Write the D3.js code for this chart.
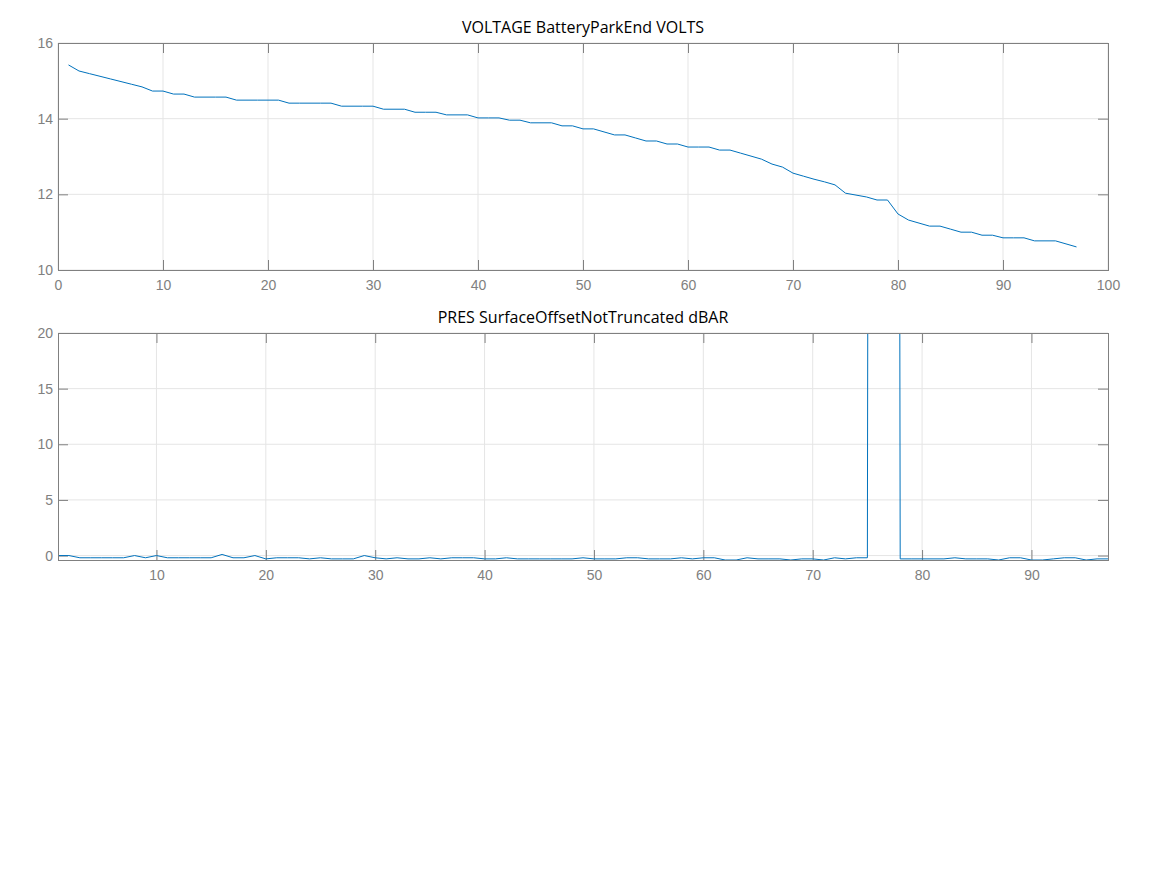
<!DOCTYPE html>
<meta charset="utf-8">
<head>
<script src="https://cdn.jsdelivr.net/npm/d3@7"></script>
</head>
<style>
  body { margin: 0; background: #fff; font-family: "Open Sans", "Noto Sans", sans-serif; }
  .title { font-size: 16px; fill: #000; }
  .tick text { font-size: 14px; fill: #808080; }
  .grid line { stroke: #e5e5e5; }
  .frame { fill: none; stroke: #808080; }
  .line { fill: none; stroke: #0072bd; stroke-width: 1px; stroke-linejoin: round; }
</style>
<body>
<script>

// top panel: battery voltage per cycle
var voltCycles = d3.range(1, 98);
var voltValues = [15.42, 15.26, 15.19, 15.12, 15.05, 14.98, 14.91, 14.84, 14.73, 14.73,
  14.65, 14.65, 14.57, 14.57, 14.57, 14.57, 14.49, 14.49, 14.49, 14.49,
  14.49, 14.41, 14.41, 14.41, 14.41, 14.41, 14.33, 14.33, 14.33, 14.33,
  14.25, 14.25, 14.25, 14.17, 14.17, 14.17, 14.10, 14.10, 14.10, 14.02,
  14.02, 14.02, 13.96, 13.96, 13.89, 13.89, 13.89, 13.81, 13.81, 13.73,
  13.73, 13.65, 13.57, 13.57, 13.49, 13.41, 13.41, 13.33, 13.33, 13.25,
  13.25, 13.25, 13.17, 13.17, 13.09, 13.01, 12.93, 12.80, 12.72, 12.56,
  12.48, 12.40, 12.33, 12.25, 12.03, 11.98, 11.93, 11.85, 11.85, 11.48,
  11.32, 11.24, 11.16, 11.16, 11.08, 11.00, 11.00, 10.92, 10.92, 10.85,
  10.85, 10.85, 10.77, 10.77, 10.77, 10.69, 10.61];

// bottom panel: surface pressure offset per cycle (76-77 go far off scale)
var presCycles = d3.range(1, 98);
var presValues = [0, 0, -0.2, -0.2, -0.2, -0.2, -0.2, 0, -0.2, 0,
  -0.2, -0.2, -0.2, -0.2, -0.2, 0.1, -0.2, -0.2, 0, -0.3,
  -0.2, -0.2, -0.2, -0.3, -0.2, -0.3, -0.3, -0.3, 0, -0.2,
  -0.3, -0.2, -0.3, -0.3, -0.2, -0.3, -0.2, -0.2, -0.2, -0.3,
  -0.3, -0.2, -0.3, -0.3, -0.3, -0.3, -0.3, -0.3, -0.2, -0.3,
  -0.3, -0.3, -0.2, -0.2, -0.3, -0.3, -0.3, -0.2, -0.3, -0.2,
  -0.2, -0.4, -0.4, -0.2, -0.3, -0.3, -0.3, -0.4, -0.3, -0.3,
  -0.4, -0.2, -0.3, -0.2, -0.2, 600, 600, -0.3, -0.3, -0.3,
  -0.3, -0.3, -0.2, -0.3, -0.3, -0.3, -0.4, -0.2, -0.2, -0.4,
  -0.4, -0.3, -0.2, -0.2, -0.4, -0.3, -0.3];

var voltXTicks = d3.range(0, 101, 10);
var voltYTicks = [10, 12, 14, 16];
var presXTicks = d3.range(10, 91, 10);
var presYTicks = [0, 5, 10, 15, 20];

var width = 1167, height = 875;
var tickLen = 10;
var fmt = d3.format("d");

var svg = d3.select("body").append("svg")
    .attr("width", width)
    .attr("height", height);

function panel(opt) {
  var x = d3.scaleLinear().domain(opt.xDomain).range([opt.left, opt.right]);
  var y = d3.scaleLinear().domain(opt.yDomain).range([opt.bottom, opt.top]);
  var g = svg.append("g");
  var clipId = "clip" + opt.id;

  g.append("clipPath").attr("id", clipId)
    .append("rect")
      .attr("x", opt.left).attr("y", opt.top)
      .attr("width", opt.right - opt.left).attr("height", opt.bottom - opt.top);

  // grid
  var grid = g.append("g").attr("class", "grid");
  grid.selectAll(".gx").data(opt.xTicks).enter().append("line")
      .attr("x1", d => x(d)).attr("x2", d => x(d))
      .attr("y1", opt.top).attr("y2", opt.bottom);
  grid.selectAll(".gy").data(opt.yTicks).enter().append("line")
      .attr("y1", d => y(d)).attr("y2", d => y(d))
      .attr("x1", opt.left).attr("x2", opt.right);

  // axes with inward ticks on all four sides
  g.append("g").attr("transform", "translate(0," + opt.bottom + ")")
      .call(d3.axisBottom(x).tickValues(opt.xTicks).tickFormat(fmt).tickSizeInner(-tickLen).tickSizeOuter(0).tickPadding(10))
      .call(a => a.selectAll("line").attr("stroke", "#808080"));
  g.append("g").attr("transform", "translate(0," + opt.top + ")")
      .call(d3.axisTop(x).tickValues(opt.xTicks).tickSizeInner(-tickLen).tickSizeOuter(0).tickFormat(""))
      .call(a => a.selectAll("line").attr("stroke", "#808080"));
  g.append("g").attr("transform", "translate(" + opt.left + ",0)")
      .call(d3.axisLeft(y).tickValues(opt.yTicks).tickFormat(fmt).tickSizeInner(-tickLen).tickSizeOuter(0).tickPadding(5))
      .call(a => a.selectAll("line").attr("stroke", "#808080"));
  g.append("g").attr("transform", "translate(" + opt.right + ",0)")
      .call(d3.axisRight(y).tickValues(opt.yTicks).tickSizeInner(-tickLen).tickSizeOuter(0).tickFormat(""))
      .call(a => a.selectAll("line").attr("stroke", "#808080"));

  g.selectAll(".domain").remove();

  g.append("path")
      .datum(d3.zip(opt.xs, opt.ys))
      .attr("class", "line")
      .attr("clip-path", "url(#" + clipId + ")")
      .attr("d", d3.line().x(d => x(d[0])).y(d => y(d[1])));

  g.append("rect").attr("class", "frame")
      .attr("x", opt.left + 0.5).attr("y", opt.top + 0.5)
      .attr("width", opt.right - opt.left).attr("height", opt.bottom - opt.top);

  g.append("text").attr("class", "title")
      .attr("x", (opt.left + opt.right) / 2)
      .attr("y", opt.top - 10)
      .attr("text-anchor", "middle")
      .text(opt.title);
}

panel({
  id: 1, title: "VOLTAGE BatteryParkEnd VOLTS",
  left: 58, right: 1108, top: 43, bottom: 270,
  xDomain: [0, 100], yDomain: [10, 16],
  xTicks: voltXTicks, yTicks: voltYTicks,
  xs: voltCycles, ys: voltValues
});

panel({
  id: 2, title: "PRES SurfaceOffsetNotTruncated dBAR",
  left: 58, right: 1108, top: 333, bottom: 560,
  xDomain: [1, 97], yDomain: [-0.4, 20],
  xTicks: presXTicks, yTicks: presYTicks,
  xs: presCycles, ys: presValues
});

</script>
</body>
</html>
